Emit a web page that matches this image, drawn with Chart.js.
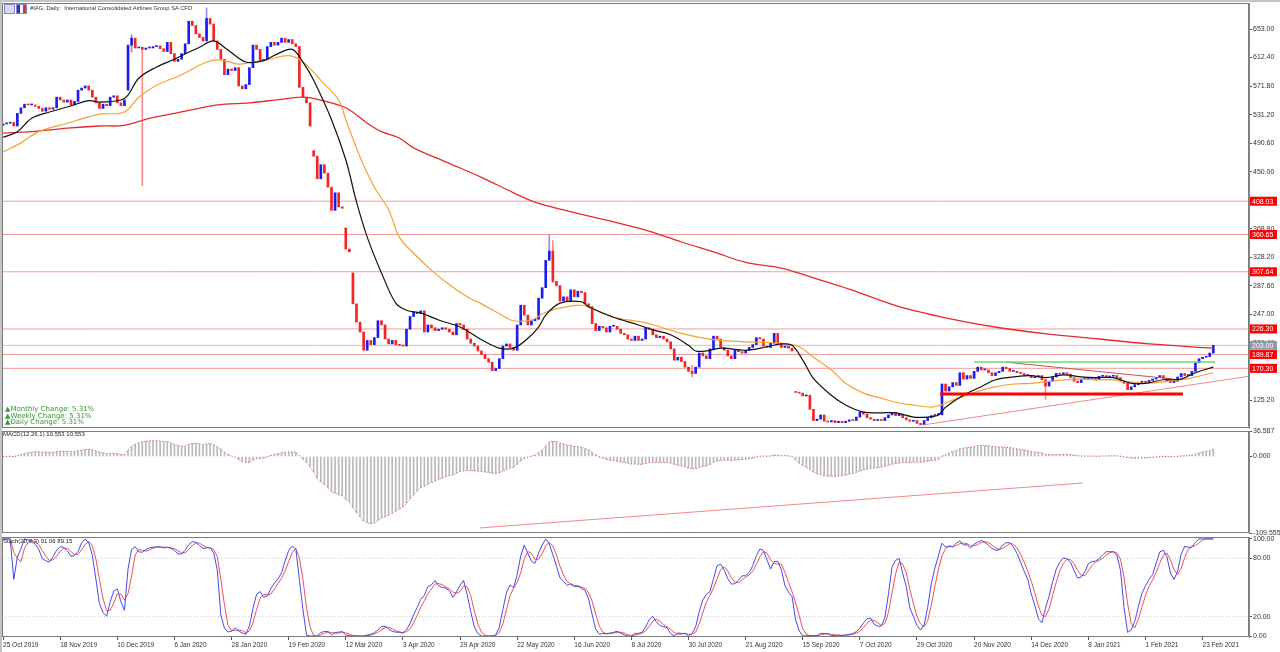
<!DOCTYPE html>
<html>
<head>
<meta charset="utf-8">
<title>#IAG, Daily</title>
<script src="https://cdn.jsdelivr.net/npm/chart.js@4.4.1/dist/chart.umd.min.js"></script>
<style>
  body { margin: 0; width: 1280px; height: 652px; background: #fff; position: relative; overflow: hidden; font-family: "Liberation Sans", Arial, sans-serif; }
  canvas { position: absolute; left: 0; }
  .txt { position: absolute; white-space: pre; color: #222; }
</style>
</head>
<body>
<div style="position:absolute;left:0;top:0;width:1280px;height:2px;background:#c4c4c4"></div>
<div style="position:absolute;left:0;top:0;width:2px;height:652px;background:#c4c4c4"></div>
<canvas id="main" width="1280" height="432" style="top:0"></canvas>
<canvas id="macd" width="1280" height="114" style="top:424px"></canvas>
<canvas id="stoch" width="1280" height="122" style="top:530px"></canvas>

<div style="position:absolute;left:4px;top:4px;width:9px;height:8px;border:1px solid #8888cc;background:#d8d8f4"></div>
<div style="position:absolute;left:16px;top:4px;width:9px;height:8px;border:1px solid #8888cc;background:linear-gradient(90deg,#3030d0 0 3px,#fff 3px 6px,#e03030 6px)"></div>
<div class="txt" style="left:30px;top:5px;font-size:5.8px;color:#333">#IAG, Daily:  International Consolidated Airlines Group SA CFD</div>
<div class="txt" style="left:5px;top:406px;font-size:7px;line-height:6.6px;color:#2f9a2f;font-family:'DejaVu Sans'">▲Monthly Change: 5.31%
▲Weekly Change: 5.31%
▲Daily Change: 5.31%</div>
<div class="txt" style="left:3px;top:431px;font-size:6px">MACD(12,26,1) 10.553 10.553</div>
<div class="txt" style="left:3px;top:538px;font-size:6px">Stoch(20,3,3) 91.06 89.15</div>

<script>
// daily closes, 25 Oct 2019 .. 26 Feb 2021 (one per bar)
const closes = [
  518, 519, 520, 515, 533, 541, 546, 545, 545, 543,
  540, 536, 541, 539, 541, 556, 552, 549, 552, 545,
  550, 566, 569, 572, 566, 556, 548, 540, 546, 544,
  556, 558, 548, 544, 552, 630, 640, 626, 627, 624,
  626, 626, 628, 629, 625, 621, 634, 618, 607, 610,
  618, 632, 664, 658, 646, 641, 636, 668, 660, 636,
  624, 610, 588, 596, 594, 598, 572, 568, 574, 598,
  630, 624, 608, 610, 628, 634, 630, 634, 640, 634,
  638, 632, 628, 570, 556, 548, 515, 472, 440, 460,
  448, 428, 395, 420, 400, 398, 340, 336, 262, 236,
  222, 196, 210, 204, 214, 238, 232, 212, 205, 210,
  204, 203, 202, 226, 244, 250, 248, 252, 222, 232,
  228, 224, 226, 228, 226, 222, 218, 234, 232, 226,
  212, 206, 202, 195, 190, 184, 179, 167, 170, 184,
  202, 205, 200, 196, 232, 260, 246, 232, 238, 240,
  270, 285, 324, 337, 294, 288, 266, 272, 266, 282,
  272, 280, 278, 262, 258, 234, 224, 230, 228, 222,
  230, 230, 226, 220, 218, 212, 210, 216, 210, 212,
  228, 226, 218, 214, 216, 212, 208, 198, 182, 186,
  180, 172, 166, 163, 172, 192, 188, 184, 198, 216,
  212, 200, 196, 188, 184, 196, 194, 192, 196, 200,
  204, 214, 212, 202, 200, 206, 220, 206, 200, 202,
  199, 195, 136, 135, 131, 132, 112, 96, 98, 104,
  95, 94, 96, 93, 95, 93, 95, 97, 96, 101,
  108, 105, 100, 98, 96, 97, 96, 100, 104, 107,
  103, 105, 100, 97, 95, 96, 92, 90, 96, 100,
  103, 104, 106, 148, 138, 144, 150, 146, 164, 155,
  160, 156, 166, 172, 168, 168, 164, 160, 164, 166,
  172, 170, 166, 166, 164, 163, 160, 160, 157, 158,
  160, 154, 145, 152, 158, 163, 162, 164, 162, 157,
  152, 150, 155, 155, 156, 156, 154, 159, 160, 158,
  159, 160, 157, 152, 149, 140, 144, 147, 150, 152,
  150, 153, 155, 157, 160, 156, 153, 150, 152, 158,
  163, 160, 160, 166, 178, 184, 186, 187, 192, 203
];
// opens that gapped away from the previous close
const gapOpens = { 0: 516, 35: 566, 87: 480, 96: 370, 98: 306, 222: 137, 263: 104 };
// visible long shadows [low, high]
const wicks = { 36: [620, 645], 39: [430, 627], 57: [640, 683], 153: [330, 360], 154: [292, 352], 193: [158, 175], 292: [126, 152] };

// moving averages: [bar, value]
const maFast = [[0,499],[4,507],[8,526],[13,535],[18,542],[24,551],[27,549],[33,552],[35,559],[38,583],[43,599],[48,610],[52,620],[55,627],[59,636],[63,623],[68,606],[73,608],[77,618],[81,624],[84,606],[87,580],[92,524],[96,467],[99,407],[102,357],[106,306],[110,263],[113,253],[117,249],[122,239],[128,229],[134,211],[139,199],[143,199],[147,213],[150,229],[152,246],[156,263],[162,265],[164,258],[171,243],[178,232],[182,225],[187,218],[192,203],[194,195],[197,195],[201,199],[208,196],[214,201],[218,205],[221,203],[224,182],[227,156],[232,132],[236,118],[241,108],[246,107],[250,107],[255,101],[259,101],[262,104],[264,115],[269,132],[274,144],[278,154],[283,158],[288,160],[292,157],[297,161],[302,158],[306,157],[311,157],[316,149],[320,149],[325,154],[330,155],[334,164],[339,172]];
const maSlow = [[0,478],[5,491],[10,507],[18,519],[24,528],[27,532],[34,535],[38,556],[43,573],[50,588],[57,606],[61,609],[66,603],[69,605],[74,609],[80,615],[84,606],[89,580],[94,552],[96,524],[100,471],[104,428],[108,396],[111,357],[115,334],[120,310],[124,293],[130,272],[134,262],[139,248],[143,238],[148,239],[152,250],[157,257],[162,260],[166,253],[171,243],[180,235],[190,220],[199,211],[208,208],[218,206],[223,201],[227,186],[232,168],[236,149],[241,135],[246,128],[250,122],[255,118],[260,115],[262,117],[266,125],[270,132],[274,139],[278,144],[283,148],[288,149],[292,151],[297,154],[302,155],[306,154],[311,154],[316,151],[320,149],[325,151],[330,154],[334,158],[339,164]];
const ma200 = [[0,505],[8,507],[18,512],[27,515],[34,516],[41,526],[50,535],[60,545],[69,548],[78,553],[84,556],[88,553],[96,541],[102,519],[106,507],[111,498],[115,484],[124,464],[134,442],[143,420],[150,405],[169,381],[180,367],[190,350],[199,336],[208,321],[218,313],[227,299],[237,283],[251,258],[265,241],[279,228],[293,219],[307,212],[321,205],[339,199]];

// horizontal levels and drawn lines
const levels = [408.03, 360.65, 307.64, 226.30, 189.87, 170.30];
const greenLine = [[272, 179.3], [339.5, 179.3]];
const supportZone = [[262.5, 133.7], [330.5, 133.7]];
const supportTrend = [[258, 90], [349, 159]];
const triangleTop = [[281, 179], [328, 155]];
const macdTrend = [[133.6, -102.3], [302.5, -37.9]];

// axes
const priceTicks = [125.2, 165.8, 206.4, 247.0, 287.6, 328.2, 368.8, 409.4, 450.0, 490.6, 531.2, 571.8, 612.4, 653.0];
const macdTicks = [36.587, 0, -109.555];
const stochTicks = [0, 20, 80, 100];
const stochLevels = [20, 80];
const dateLabels = ['25 Oct 2019','18 Nov 2019','10 Dec 2019','6 Jan 2020','28 Jan 2020','19 Feb 2020','12 Mar 2020','3 Apr 2020','29 Apr 2020','22 May 2020','16 Jun 2020','8 Jul 2020','30 Jul 2020','21 Aug 2020','15 Sep 2020','7 Oct 2020','29 Oct 2020','20 Nov 2020','14 Dec 2020','8 Jan 2021','1 Feb 2021','23 Feb 2021'];
const barsPerLabel = 16;

const X_MIN = -0.3, X_MAX = 349;

// build candles
const opens = closes.map((c, i) => gapOpens[i] !== undefined ? gapOpens[i] : closes[i - 1]);
const highs = closes.map((c, i) => Math.max(c, opens[i], wicks[i] ? wicks[i][1] : -Infinity));
const lows = closes.map((c, i) => Math.min(c, opens[i], wicks[i] ? wicks[i][0] : Infinity));
const upCol = '#1c1cf0', downCol = '#f42424';
const bodies = closes.map((c, i) => ({ x: i, y: [opens[i], c] }));
const bodyColors = closes.map((c, i) => c >= opens[i] ? upCol : downCol);
const wickData = Object.keys(wicks).map(i => ({ x: +i, y: wicks[i] }));
const wickColors = Object.keys(wicks).map(i => closes[i] >= opens[i] ? '#8c8cff' : '#ff8c8c');
const lastPrice = closes[closes.length - 1];

// MACD(12,26,1)
function ema(arr, n) {
  const k = 2 / (n + 1);
  const out = [];
  arr.forEach((v, i) => out.push(i ? out[i - 1] + k * (v - out[i - 1]) : v));
  return out;
}
const e12 = ema(closes, 12), e26 = ema(closes, 26);
const macd = closes.map((c, i) => e12[i] - e26[i]);

// Stochastic(20,3,3)
const hl = closes.map((c, i) => {
  const from = Math.max(0, i - 19);
  return [Math.min(...lows.slice(from, i + 1)), Math.max(...highs.slice(from, i + 1))];
});
const stochK = closes.map((c, i) => {
  let num = 0, den = 0;
  for (let j = Math.max(0, i - 2); j <= i; j++) { num += closes[j] - hl[j][0]; den += hl[j][1] - hl[j][0]; }
  return den ? num / den * 100 : 50;
});
const stochD = stochK.map((k, i) => {
  const s = stochK.slice(Math.max(0, i - 2), i + 1);
  return s.reduce((a, b) => a + b, 0) / s.length;
});

const pts = arr => arr.map(([x, y]) => ({ x, y }));
const flat = v => [{ x: X_MIN, y: v }, { x: X_MAX, y: v }];
const lineSet = (data, color, width, extra) => Object.assign({ type: 'line', data, borderColor: color, borderWidth: width, pointRadius: 0, fill: false, tension: 0 }, extra || {});

function rightAxis(min, max, ticks, digits) {
  return {
    position: 'right', min, max,
    grid: { display: true, drawOnChartArea: false, drawTicks: true, tickLength: 3, color: '#555' },
    border: { display: true, color: '#888' },
    ticks: { autoSkip: false, padding: 1, color: '#333', font: { family: 'Liberation Sans', size: 7 }, callback: v => Number(v).toFixed(digits) },
    afterBuildTicks: s => { s.ticks = ticks.map(v => ({ value: v })); },
    afterFit: s => { s.width = 31; s.paddingTop = 0; s.paddingBottom = 0; }
  };
}
function xAxis(show) {
  const axis = {
    type: 'linear', min: X_MIN, max: X_MAX, offset: false, display: show,
    grid: { display: true, drawOnChartArea: false, drawTicks: true, tickLength: 3, color: '#555' },
    border: { display: false },
    ticks: { autoSkip: false, maxRotation: 0, align: 'start', padding: 1, color: '#333', font: { family: 'Liberation Sans', size: 6.5 },
      callback: v => dateLabels[Math.round(v / barsPerLabel)] || '' },
    afterBuildTicks: s => { s.ticks = dateLabels.map((_, k) => ({ value: k * barsPerLabel })); }
  };
  if (show) axis.afterFit = s => { s.height = 15; s.paddingLeft = 0; s.paddingRight = 0; };
  return axis;
}

const frame = {
  id: 'frame',
  afterDatasetsDraw(chart) {
    const { ctx, chartArea: a } = chart;
    ctx.save();
    ctx.strokeStyle = '#7c7c7c';
    ctx.lineWidth = 1;
    ctx.strokeRect(a.left + 0.5, a.top + 0.5, a.width - 1, a.height - 1);
    ctx.restore();
  }
};
const levelTags = {
  id: 'levelTags',
  afterDraw(chart) {
    const { ctx, scales: { y } } = chart;
    ctx.save();
    ctx.font = '7px "Liberation Sans"';
    ctx.textBaseline = 'middle';
    const tag = (v, fill) => {
      const py = y.getPixelForValue(v);
      ctx.fillStyle = fill;
      ctx.fillRect(1250, py - 4.5, 27, 9);
      ctx.fillStyle = '#fff';
      ctx.fillText(v.toFixed(2), 1252, py + 0.5);
    };
    levels.forEach(v => tag(v, '#ff0000'));
    tag(lastPrice, '#8e9ba8');
    ctx.restore();
  }
};

const common = {
  responsive: false, animation: false, events: [],
  plugins: { legend: { display: false }, tooltip: { enabled: false } }
};

new Chart(document.getElementById('main'), {
  type: 'bar',
  data: {
    datasets: [
      ...levels.map(v => lineSet(flat(v), '#f49a9a', 1, { order: 20 })),
      lineSet(flat(lastPrice), '#c4c4c4', 1, { order: 20 }),
      { type: 'bar', data: wickData, backgroundColor: wickColors, barThickness: 1, grouped: false, order: 12 },
      { type: 'bar', data: bodies, backgroundColor: bodyColors, borderWidth: 0, barThickness: 2, minBarLength: 1, grouped: false, order: 11 },
      lineSet(pts(ma200), '#e8292b', 1.3, { tension: 0.35, order: 5 }),
      lineSet(pts(maSlow), '#f5a233', 1.2, { tension: 0.35, order: 4 }),
      lineSet(pts(maFast), '#111111', 1.2, { tension: 0.35, order: 3 }),
      lineSet(pts(greenLine), '#6ad86a', 1.5, { order: 1 }),
      lineSet(pts(supportZone), '#ff0000', 3, { order: 1 }),
      lineSet(pts(supportTrend), '#f08888', 1, { order: 1 }),
      lineSet(pts(triangleTop), '#c85050', 1, { order: 1 })
    ]
  },
  options: Object.assign({}, common, {
    layout: { padding: { left: 2, right: 0, top: 3, bottom: 4 } },
    scales: { x: xAxis(false), y: rightAxis(85.4, 690.0, priceTicks, 2) }
  }),
  plugins: [frame, levelTags]
});

new Chart(document.getElementById('macd'), {
  type: 'bar',
  data: {
    datasets: [
      { type: 'bar', data: macd.map((v, i) => ({ x: i, y: v })), backgroundColor: '#b9b9b9', barThickness: 1, grouped: false, order: 5 },
      lineSet(macd.map((v, i) => ({ x: i, y: v })), '#e05050', 1, { borderDash: [1, 2], order: 2 }),
      lineSet(pts(macdTrend), '#f08888', 1, { order: 1 })
    ]
  },
  options: Object.assign({}, common, {
    layout: { padding: { left: 2, right: 0, top: 7, bottom: 5 } },
    scales: { x: xAxis(false), y: rightAxis(-109.555, 36.587, macdTicks, 3) }
  }),
  plugins: [frame]
});

new Chart(document.getElementById('stoch'), {
  type: 'line',
  data: {
    datasets: [
      ...stochLevels.map(v => lineSet(flat(v), '#c8c8c8', 1, { borderDash: [1, 2], order: 5 })),
      lineSet(stochD.map((v, i) => ({ x: i, y: v })), '#f05050', 1, { order: 2 }),
      lineSet(stochK.map((v, i) => ({ x: i, y: v })), '#4848f0', 1, { order: 1 })
    ]
  },
  options: Object.assign({}, common, {
    layout: { padding: { left: 2, right: 0, top: 7, bottom: 0 } },
    scales: { x: xAxis(true), y: rightAxis(-1, 102, stochTicks, 2) }
  }),
  plugins: [frame]
});
</script>
</body>
</html>
